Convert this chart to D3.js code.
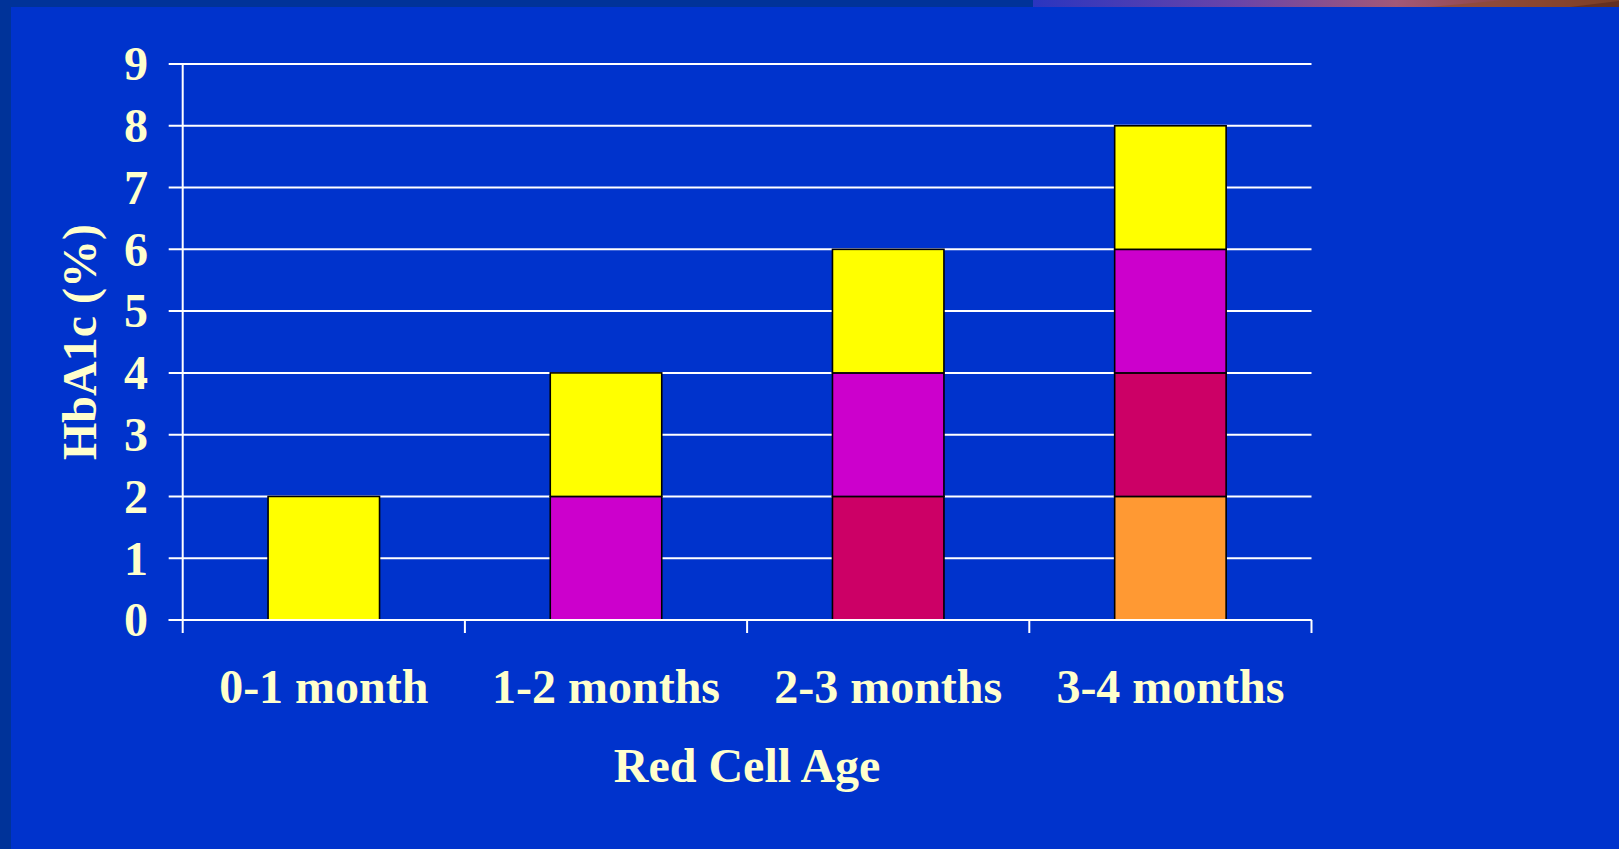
<!DOCTYPE html>
<html>
<head>
<meta charset="utf-8">
<script src="https://cdn.jsdelivr.net/npm/d3@7"></script>
<style>
  html, body { margin: 0; padding: 0; background: #0033cc; }
  svg { display: block; }
  text { font-family: "Liberation Serif", "Times New Roman", serif; font-weight: bold; fill: #ffffcc; }
</style>
</head>
<body>
<svg id="chart" width="1619" height="849"></svg>
<script>
// Red cell age groups along the x axis
const categories = ["0-1 month", "1-2 months", "2-3 months", "3-4 months"];
// Stacked HbA1c contributions (%), bottom to top
const seriesKeys = ["fourth", "third", "second", "first"];
const fourth = [0, 0, 0, 2];
const third  = [0, 0, 2, 2];
const second = [0, 2, 2, 2];
const first  = [2, 2, 2, 2];
const seriesColors = ["#ff9933", "#cc0066", "#cc00cc", "#ffff00"];
const yTicks = [0, 1, 2, 3, 4, 5, 6, 7, 8, 9];
const yTitle = "HbA1c (%)";
const xTitle = "Red Cell Age";

const rows = categories.map((c, i) => ({
  cat: c, fourth: fourth[i], third: third[i], second: second[i], first: first[i]
}));

const svg = d3.select("#chart");
const W = 1619, H = 849;

// slide frame: dark strip on the left and top, gradient at top right
const defs = svg.append("defs");
const grad = defs.append("linearGradient").attr("id", "topGrad")
  .attr("x1", "0%").attr("x2", "100%").attr("y1", "0%").attr("y2", "0%");
grad.append("stop").attr("offset", "0%").attr("stop-color", "#2a35c0");
grad.append("stop").attr("offset", "35%").attr("stop-color", "#6a44a8");
grad.append("stop").attr("offset", "62%").attr("stop-color", "#a25878");
grad.append("stop").attr("offset", "85%").attr("stop-color", "#8a4238");
grad.append("stop").attr("offset", "100%").attr("stop-color", "#6a3020");

svg.append("rect").attr("x", 0).attr("y", 0).attr("width", W).attr("height", H).attr("fill", "#0033cc");
svg.append("rect").attr("x", 0).attr("y", 0).attr("width", 11).attr("height", H).attr("fill", "#003399");
svg.append("rect").attr("x", 0).attr("y", 0).attr("width", 1033).attr("height", 7).attr("fill", "#003399");
svg.append("rect").attr("x", 1033).attr("y", 0).attr("width", W - 1033).attr("height", 7).attr("fill", "url(#topGrad)");
svg.append("path")
  .attr("d", "M1430,7 L1505,0 L1619,0 L1619,7 Z")
  .attr("fill", "#8a4a2c").attr("opacity", 0.55);
svg.append("path")
  .attr("d", "M1570,7 L1619,1 L1619,7 Z")
  .attr("fill", "#5a2a20").attr("opacity", 0.7);

// plot area
const plotLeft = 182.7, plotRight = 1311.5, plotTop = 64, plotBottom = 620;

const x = d3.scaleBand().domain(categories).range([plotLeft, plotRight])
  .paddingInner(0.605).paddingOuter(0.3025);
const xEdges = d3.scaleLinear().domain([0, categories.length]).range([plotLeft, plotRight]);
const y = d3.scaleLinear().domain([0, 9]).range([plotBottom, plotTop]);

// horizontal gridlines with left tick marks
svg.append("g").selectAll("line").data(yTicks).join("line")
  .attr("x1", plotLeft - 14).attr("x2", plotRight)
  .attr("y1", d => y(d)).attr("y2", d => y(d))
  .attr("stroke", "#ffffff").attr("stroke-width", 2);

// y axis labels
svg.append("g").selectAll("text").data(yTicks).join("text")
  .attr("x", 148).attr("y", d => y(d))
  .attr("dy", "0.34em")
  .attr("text-anchor", "end")
  .attr("font-size", 48)
  .text(d => d);

// stacked bars
const stacked = d3.stack().keys(seriesKeys)(rows);
svg.append("g").selectAll("g").data(stacked).join("g")
  .attr("fill", (d, i) => seriesColors[i])
  .selectAll("rect").data(d => d.filter(s => s[1] - s[0] > 0)).join("rect")
  .attr("x", d => x(d.data.cat))
  .attr("width", x.bandwidth())
  .attr("y", d => y(d[1]))
  .attr("height", d => y(d[0]) - y(d[1]))
  .attr("stroke", "#000000").attr("stroke-width", 1.6);

// axis lines and category tick marks
svg.append("line")
  .attr("x1", plotLeft).attr("x2", plotLeft).attr("y1", plotTop).attr("y2", plotBottom + 13)
  .attr("stroke", "#ffffff").attr("stroke-width", 2);
svg.append("g").selectAll("line").data(d3.range(1, categories.length + 1)).join("line")
  .attr("x1", d => xEdges(d)).attr("x2", d => xEdges(d))
  .attr("y1", plotBottom).attr("y2", plotBottom + 13)
  .attr("stroke", "#ffffff").attr("stroke-width", 2);
svg.append("line")
  .attr("x1", plotLeft - 14).attr("x2", plotRight).attr("y1", plotBottom).attr("y2", plotBottom)
  .attr("stroke", "#ffffff").attr("stroke-width", 2);

// category labels
svg.append("g").selectAll("text").data(categories).join("text")
  .attr("x", d => x(d) + x.bandwidth() / 2)
  .attr("y", 702.7)
  .attr("text-anchor", "middle")
  .attr("font-size", 48)
  .text(d => d);

// axis titles
svg.append("text")
  .attr("x", (plotLeft + plotRight) / 2).attr("y", 782.3)
  .attr("text-anchor", "middle").attr("font-size", 48)
  .text(xTitle);
svg.append("text")
  .attr("transform", `translate(96, ${(plotTop + plotBottom) / 2}) rotate(-90)`)
  .attr("text-anchor", "middle").attr("font-size", 48)
  .text(yTitle);
</script>
</body>
</html>
